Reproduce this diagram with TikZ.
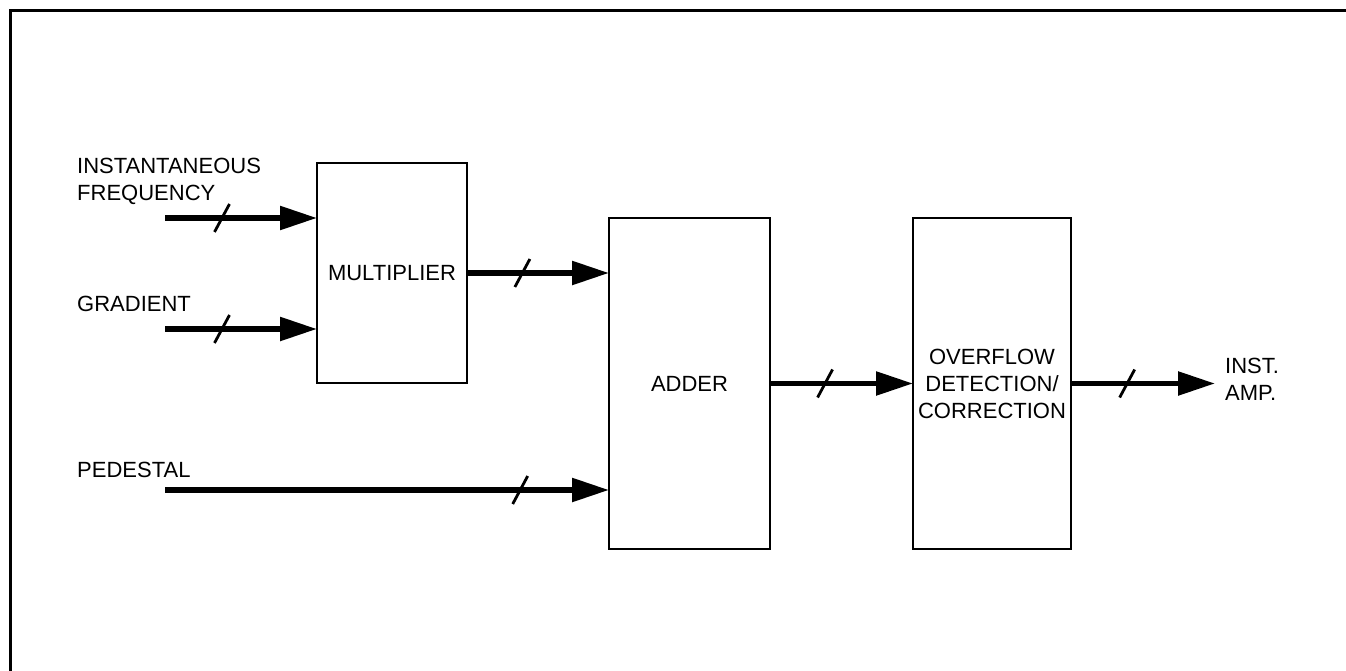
\documentclass[tikz,border=0pt]{standalone}
\usepackage{fontspec}
\setmainfont{Liberation Sans}
\usetikzlibrary{arrows.meta}
\begin{document}
\begin{tikzpicture}[x=1pt,y=-1pt,
  every node/.style={font=\fontsize{22}{27}\selectfont},
  blockbox/.style={draw, line width=2.8pt, outer sep=0pt, inner sep=0pt, align=center},
  lbl/.style={inner sep=0pt, align=left},
  sig/.style={line width=5.5pt, -{Triangle[length=37pt,width=23pt]}},
  slashpic/.pic={\draw[line width=2.8pt, -] (-7.5pt,-14pt) -- (7.5pt,14pt);}
]
\useasboundingbox (0,0) rectangle (1346,671);
% frame
\draw[line width=3pt] (10,671) -- (10,11) -- (1346,11);

% blocks
\node[blockbox, minimum width=150pt, minimum height=220pt] (mult) at (392,273) {MULTIPLIER};
\node[blockbox, minimum width=161pt, minimum height=331pt] (adder) at (689.5,383.5) {ADDER};
\node[blockbox, minimum width=158pt, minimum height=331pt] (ovf) at (992,383.5) {OVERFLOW\\DETECTION/\\CORRECTION};

% labels
\node[lbl, anchor=north west] (lfreq) at (77,158) {INSTANTANEOUS\\FREQUENCY};
\node[lbl, anchor=north west] (lgrad) at (77,296) {GRADIENT};
\node[lbl, anchor=north west] (lped) at (77,462) {PEDESTAL};
\node[lbl, anchor=north west] (lout) at (1225,358) {INST.\\AMP.};

% connector start/end points
\coordinate (infreq) at (165,218);
\coordinate (ingrad) at (165,329);
\coordinate (inped) at (165,490);
\coordinate (outamp) at (1215,383.5);

\draw[sig] (infreq) -- pic[pos=0.375]{slashpic} (infreq -| mult.west);
\draw[sig] (ingrad) -- pic[pos=0.375]{slashpic} (ingrad -| mult.west);
\draw[sig] (mult.east) -- pic[pos=0.39]{slashpic} (mult.east -| adder.west);
\draw[sig] (inped) -- pic[pos=0.80]{slashpic} (inped -| adder.west);
\draw[sig] (adder.east) -- pic[pos=0.385]{slashpic} (ovf.west);
\draw[sig] (ovf.east) -- pic[pos=0.39]{slashpic} (outamp);
\end{tikzpicture}
\end{document}
